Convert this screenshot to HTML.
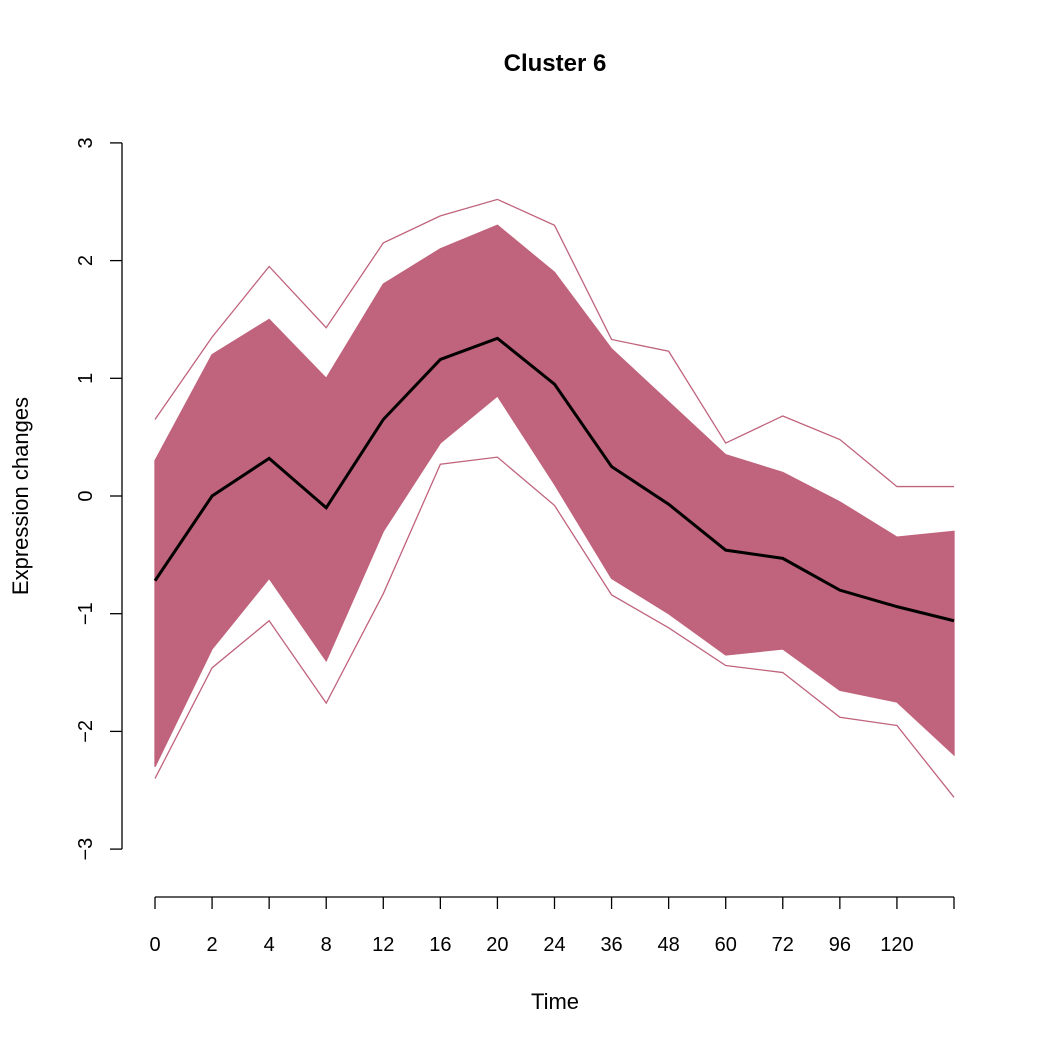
<!DOCTYPE html>
<html><head><meta charset="utf-8"><style>
body{margin:0;background:#fff}
svg{display:block;font-family:"Liberation Sans",Arial,sans-serif}
</style></head><body>
<svg id="chart" width="1050" height="1050">
<text x="555" y="71" text-anchor="middle" font-size="24" font-weight="bold">Cluster 6</text>
<text x="555" y="1009" text-anchor="middle" font-size="22">Time</text>
<text transform="translate(28,496) rotate(-90)" text-anchor="middle" font-size="22">Expression changes</text>
<g id="plot"></g>
</svg>
<script>
const categories=["0","2","4","8","12","16","20","24","36","48","60","72","96","120",""];
const meanValues=[-0.72,0,0.32,-0.1,0.65,1.16,1.34,0.95,0.25,-0.07,-0.46,-0.53,-0.8,-0.94,-1.06];
const bandUpper=[0.3,1.2,1.5,1.0,1.8,2.1,2.3,1.9,1.25,0.8,0.35,0.2,-0.05,-0.35,-0.3];
const bandLower=[-2.3,-1.3,-0.7,-1.4,-0.3,0.45,0.85,0.1,-0.7,-1.0,-1.35,-1.3,-1.65,-1.75,-2.2];
const maxValues=[0.65,1.35,1.95,1.43,2.15,2.38,2.52,2.3,1.33,1.23,0.45,0.68,0.48,0.08,0.08];
const minValues=[-2.4,-1.46,-1.06,-1.76,-0.83,0.27,0.33,-0.08,-0.84,-1.12,-1.44,-1.5,-1.88,-1.95,-2.56];
const yTicks=[-3,-2,-1,0,1,2,3];
const NS="http://www.w3.org/2000/svg";
const x=i=>155+i*(954-155)/(categories.length-1);
const y=v=>496-v*117.7;
const g=document.getElementById('plot');
function mk(t,a){const e=document.createElementNS(NS,t);for(const k in a)e.setAttribute(k,a[k]);g.appendChild(e);return e;}
const col="#c0637c";
let pts=bandUpper.map((v,i)=>x(i)+","+y(v)).concat(bandLower.map((v,i)=>x(i)+","+y(v)).reverse());
let band=mk('polygon',{points:pts.join(' '),fill:col,stroke:col,'stroke-width':1.3});


[[maxValues,'max-series-line'],[minValues,'min-series-line']].forEach(([arr,n])=>{
 let l=mk('polyline',{points:arr.map((v,i)=>x(i)+","+y(v)).join(' '),fill:'none',stroke:col,'stroke-width':1.3});
 
 
});
let m=mk('polyline',{points:meanValues.map((v,i)=>x(i)+","+y(v)).join(' '),fill:'none',stroke:'#000','stroke-width':3});


let ya=mk('line',{x1:122,x2:122,y1:y(3),y2:y(-3),stroke:'#000','stroke-width':1.3});


yTicks.forEach(v=>{
 let t=mk('line',{x1:110,x2:122,y1:y(v),y2:y(v),stroke:'#000','stroke-width':1.3});
 
 
 let tx=mk('text',{transform:`translate(92,${y(v)}) rotate(-90)`,'text-anchor':'middle','font-size':20});
 tx.textContent=v<0?"\u2212"+(-v):String(v);
 
 
});
let xa=mk('line',{x1:x(0),x2:x(categories.length-1),y1:897,y2:897,stroke:'#000','stroke-width':1.3});


categories.forEach((c,i)=>{
 let t=mk('line',{x1:x(i),x2:x(i),y1:897,y2:909,stroke:'#000','stroke-width':1.3});
 
 
 let tx=mk('text',{x:x(i),y:951,'text-anchor':'middle','font-size':20});
 tx.textContent=c;
 
 
});
</script>
</body></html>
